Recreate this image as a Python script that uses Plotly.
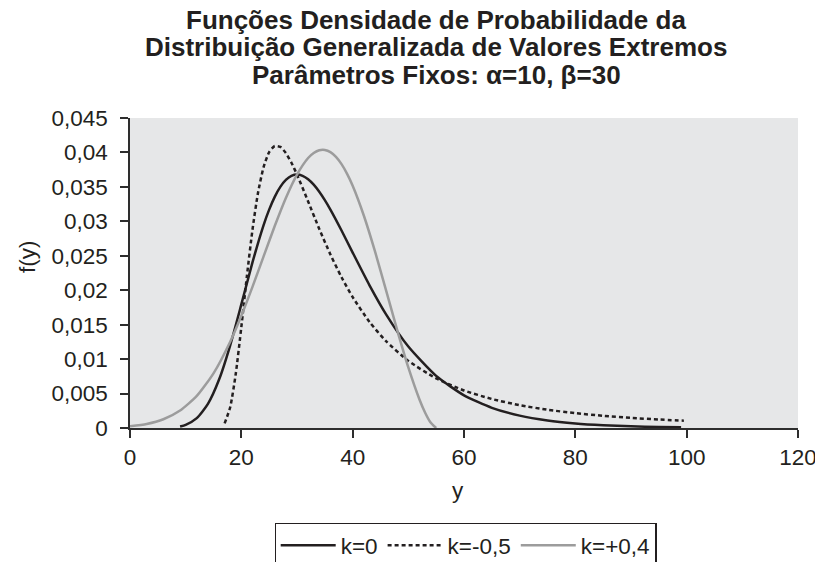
import plotly.graph_objects as go

# ---- data ----
y_k0 = [9, 10, 12, 14, 16, 18, 20, 22, 24, 25, 26, 27, 28, 29, 30, 31, 32, 33, 34, 35, 36,
        38, 40, 43, 46, 50, 55, 60, 65, 70, 75, 80, 85, 90, 95, 99]
f_k0 = [0.00023, 0.00046, 0.00143, 0.0035, 0.00703, 0.0120, 0.01794, 0.02404, 0.02946,
        0.0317, 0.03355, 0.035, 0.03601, 0.0366, 0.03679, 0.03661, 0.03611, 0.03532,
        0.03429, 0.03307, 0.0317, 0.02867, 0.02546, 0.02075, 0.0165, 0.01182, 0.00756,
        0.00474, 0.00293, 0.0018, 0.0011, 0.00067, 0.00041, 0.00025, 0.00015, 0.0001]

y_km05 = [17, 18, 19, 20, 21, 22, 23, 24, 25, 26, 27, 28, 29, 30, 32, 34, 36, 38, 40, 43,
          46, 50, 55, 60, 65, 70, 75, 80, 85, 90, 95, 99.5]
f_km05 = [0.00067, 0.00302, 0.00787, 0.01465, 0.02204, 0.02878, 0.03415, 0.03787, 0.04005,
          0.04094, 0.0408, 0.03992, 0.03851, 0.03679, 0.03288, 0.0289, 0.02519, 0.02188,
          0.019, 0.01542, 0.0126, 0.00974, 0.0072, 0.00545, 0.00421, 0.00331, 0.00265,
          0.00215, 0.00177, 0.00147, 0.00123, 0.00106]

y_kp04 = [0, 3, 6, 9, 12, 15, 18, 20, 22, 24, 26, 28, 30, 32, 33, 34, 35, 36, 37, 38, 39,
          40, 42, 44, 46, 48, 50, 52, 53, 54, 55]
f_kp04 = [0.00025, 0.00059, 0.00127, 0.00253, 0.00466, 0.00794, 0.01253, 0.0163, 0.02049,
          0.02492, 0.02932, 0.0334, 0.03679, 0.03919, 0.03992, 0.04032, 0.04036, 0.04005,
          0.03935, 0.0383, 0.03689, 0.03517, 0.03085, 0.02567, 0.01998, 0.01421, 0.00879,
          0.00414, 0.00226, 0.0008, 0.0]

series_names = ["k=0", "k=-0,5", "k=+0,4"]

y_tickvals = [0, 0.005, 0.01, 0.015, 0.02, 0.025, 0.03, 0.035, 0.04, 0.045]
y_ticktext = ["0", "0,005", "0,01", "0,015", "0,02", "0,025", "0,03", "0,035", "0,04", "0,045"]
x_tickvals = [0, 20, 40, 60, 80, 100, 120]

title_lines = ["Funções Densidade de Probabilidade da",
               "Distribuição Generalizada de Valores Extremos",
               "Parâmetros Fixos: α=10, β=30"]
x_title = "y"
y_title = "f(y)"

FONT = "Liberation Sans, Arial, sans-serif"
TXT = "#231f20"
W, H = 823, 562
OFF = 8  # the page places the figure 8 px from the top-left corner
# desired page positions (px)
PLOT_L, PLOT_T, PLOT_R, PLOT_B = 130, 118, 798, 428
L, T = PLOT_L - OFF, PLOT_T - OFF
R, B = W - (PLOT_R - OFF), H - (PLOT_B - OFF)
PW, PH = W - L - R, H - T - B


def px(xp):
    return (xp - OFF - L) / PW


def py(yp):
    return (H - B - (yp - OFF)) / PH


fig = go.Figure()
fig.add_trace(go.Scatter(x=y_k0, y=f_k0, mode="lines", name=series_names[0],
                         line=dict(color="#231f20", width=2.5, shape="spline", smoothing=0.6)))
fig.add_trace(go.Scatter(x=y_km05, y=f_km05, mode="lines", name=series_names[1],
                         line=dict(color="#231f20", width=2.5, dash="4px,3px",
                                   shape="spline", smoothing=0.6)))
fig.add_trace(go.Scatter(x=y_kp04, y=f_kp04, mode="lines", name=series_names[2],
                         line=dict(color="#9c9c9c", width=2.5, shape="spline", smoothing=0.6)))

annotations = []
for line, yc in zip(title_lines, [19.5, 47.5, 75.5]):
    annotations.append(dict(text="<b>" + line + "</b>", xref="paper", yref="paper",
                            x=px(436), y=py(yc), xanchor="center", yanchor="middle",
                            showarrow=False, font=dict(family=FONT, size=26, color=TXT)))
annotations.append(dict(text=y_title, xref="paper", yref="paper",
                        x=px(27), y=py(257), xanchor="center", yanchor="middle",
                        textangle=-90, showarrow=False,
                        font=dict(family=FONT, size=22.5, color=TXT)))
annotations.append(dict(text=x_title, xref="paper", yref="paper",
                        x=px(458), y=py(490), xanchor="center", yanchor="middle",
                        showarrow=False, font=dict(family=FONT, size=22.5, color=TXT)))

axis_color = "#2e2e2e"
fig.update_layout(
    width=W, height=H,
    margin=dict(l=L, r=R, t=T, b=B, autoexpand=False),
    paper_bgcolor="white",
    plot_bgcolor="#e6e7e8",
    font=dict(family=FONT, size=22.5, color=TXT),
    showlegend=True,
    annotations=annotations,
    legend=dict(orientation="h", x=px(465.5), xanchor="center",
                y=py(523), yanchor="top",
                bordercolor="#231f20", borderwidth=1.2, bgcolor="white",
                font=dict(family=FONT, size=22.5, color=TXT),
                itemwidth=55),
    xaxis=dict(range=[0, 120], tickvals=x_tickvals, showgrid=False, zeroline=False,
               showline=True, linecolor=axis_color, linewidth=1.5, automargin=False,
               ticks="outside", ticklen=8, tickcolor=axis_color, tickwidth=1.5,
               tickfont=dict(family=FONT, size=22.5, color=TXT)),
    yaxis=dict(range=[0, 0.045], tickvals=y_tickvals, ticktext=y_ticktext,
               showgrid=False, zeroline=False, automargin=False,
               showline=True, linecolor=axis_color, linewidth=1.5,
               ticks="outside", ticklen=8, tickcolor=axis_color, tickwidth=1.5,
               ticklabelstandoff=8,
               tickfont=dict(family=FONT, size=22.5, color=TXT)),
)

fig.write_html("out.html")
